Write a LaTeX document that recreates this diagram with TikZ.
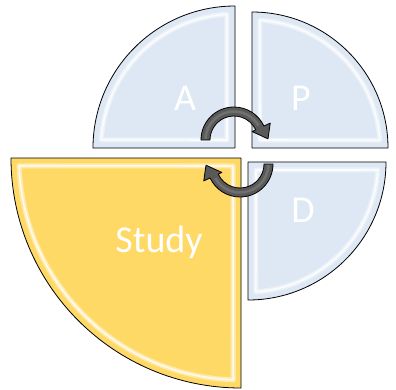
\documentclass[tikz,border=0pt]{standalone}
\usepackage{fontspec}
\setmainfont{Carlito}
\definecolor{quadblue}{RGB}{221,232,244}
\definecolor{quadgold}{RGB}{255,217,102}
\definecolor{arrowgray}{RGB}{89,89,89}
\tikzset{
	quad/.style={draw=black,line width=0.8pt,line join=round},
	bevel/.style={draw=white,line width=5pt,opacity=0.45,line join=round},
	shine/.style={draw=white,line width=1.6pt,opacity=0.8,line join=round},
	quadlabel/.style={text=white,font=\fontsize{38}{40}\selectfont,anchor=base},
	turn/.style={fill=arrowgray,draw=black,line width=0.8pt,line join=round},
	turnarrow/.pic={
		\filldraw [turn] (180:33) arc [start angle=180,end angle=335,radius=33]
			-- (335:40) -- (358:34) -- (335:20) -- (335:24)
			arc [start angle=335,end angle=180,radius=24] -- cycle;
		\draw [gray,line width=2.5pt,opacity=0.6] (182:28.5) arc [start angle=182,end angle=330,radius=28.5];
	}
}
\begin{document}
\begin{tikzpicture}[x=1pt,y=-1pt]
	\useasboundingbox (0,0) rectangle (396,389);
	% Act
	\draw [quad,fill=quadblue] (235,148) -- (93,148) arc [start angle=180,end angle=270,radius=142] -- cycle;
	\draw [bevel] (227,140) -- ([shift={(235,148)}]183.5:134) arc [start angle=183.5,end angle=266.5,radius=134] -- cycle;
	\draw [shine] (227,140) -- ([shift={(235,148)}]183.5:134) arc [start angle=183.5,end angle=266.5,radius=134] -- cycle;
	% Plan
	\draw [quad,fill=quadblue] (252,148) -- (252,12) arc [start angle=270,end angle=360,radius=136] -- cycle;
	\draw [bevel] (260,140) -- ([shift={(252,148)}]273.5:128) arc [start angle=273.5,end angle=356.5,radius=128] -- cycle;
	\draw [shine] (260,140) -- ([shift={(252,148)}]273.5:128) arc [start angle=273.5,end angle=356.5,radius=128] -- cycle;
	% Do
	\draw [quad,fill=quadblue] (248,162) -- (386,162) arc [start angle=0,end angle=90,radius=138] -- cycle;
	\draw [bevel] (256,170) -- ([shift={(248,162)}]3.5:130) arc [start angle=3.5,end angle=86.5,radius=130] -- cycle;
	\draw [shine] (256,170) -- ([shift={(248,162)}]3.5:130) arc [start angle=3.5,end angle=86.5,radius=130] -- cycle;
	% Study
	\draw [quad,fill=quadgold] (241,158) -- (241,388) arc [start angle=90,end angle=180,radius=230] -- cycle;
	\draw [bevel] (233,166) -- ([shift={(241,158)}]92:222) arc [start angle=92,end angle=178,radius=222] -- cycle;
	\draw [shine] (233,166) -- ([shift={(241,158)}]92:222) arc [start angle=92,end angle=178,radius=222] -- cycle;
	% labels
	\node [quadlabel] (act) at (185,110) {A};
	\node [quadlabel] (plan) at (301,110) {P};
	\node [quadlabel] (do) at (303,222) {D};
	\node [quadlabel] (study) at (159,252) {Study};
	% cycle arrows
	\pic at (234,140) {turnarrow};
	\pic [rotate=180] at (240,164) {turnarrow};
\end{tikzpicture}
\end{document}
